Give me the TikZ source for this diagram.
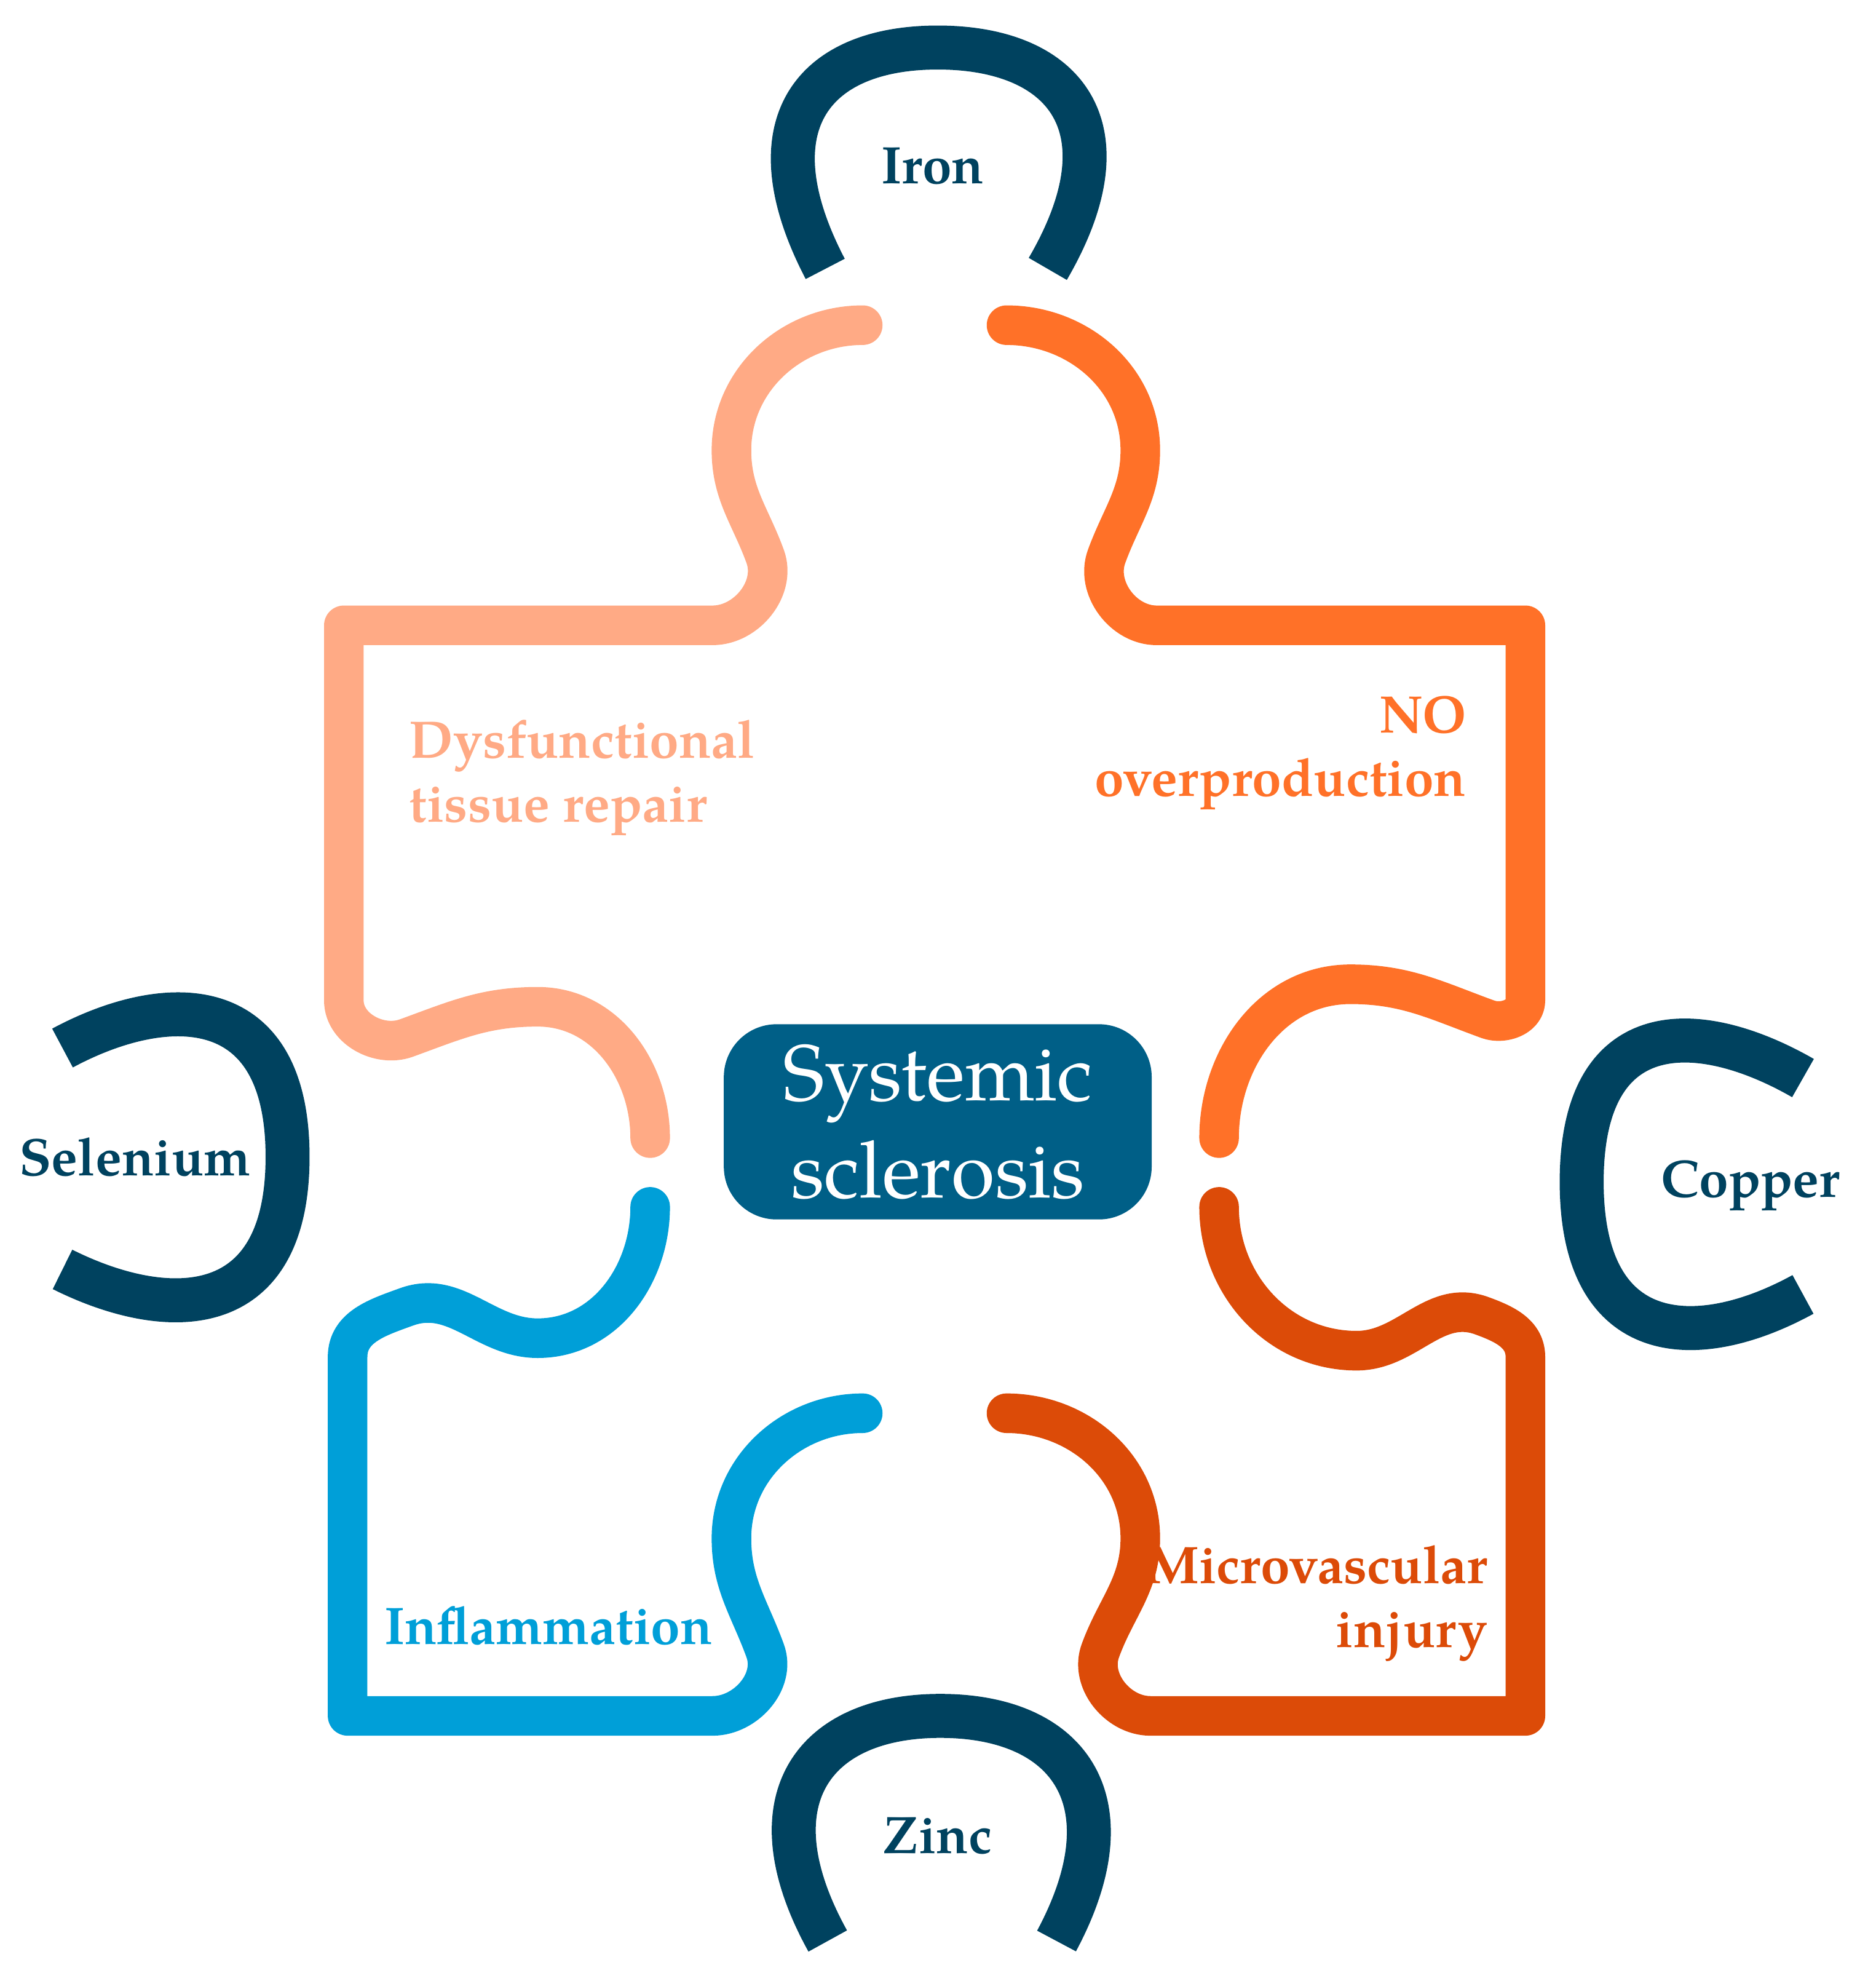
\documentclass[tikz,border=0pt]{standalone}
\usepackage{fontspec}
\setmainfont{TeX Gyre Pagella}[]
\begin{document}
\begin{tikzpicture}[x=0.01cm,y=-0.01cm,
 pc/.style={line width=9pt,line cap=round,line join=round},
 dk/.style={line width=10pt,draw=dkb},
 lab/.style={font=\bfseries\fontsize{12}{14.5}\selectfont,align=left}]
\definecolor{lo}{HTML}{FFAA85}\definecolor{mo}{HTML}{FF7128}
\definecolor{bl}{HTML}{009FD8}\definecolor{ro}{HTML}{DC4B08}
\definecolor{dkb}{HTML}{00425F}\definecolor{bx}{HTML}{005F87}
\useasboundingbox (0,0) rectangle (1500,1584);
% top-left
\draw[pc,lo] (690,260) to[out=180,in=90] (585,360) to[out=-90,in=110] (612,445) to[out=-70,in=0] (570,500) -- (275,500) -- (275,800) to[out=-90,in=200] (325,830) to[out=20,in=180] (430,805) to[out=0,in=90] (520,910);
% top-right
\draw[pc,mo] (805,260) to[out=0,in=90] (912,360) to[out=-90,in=70] (885,445) to[out=-110,in=180] (925,500) -- (1220,500) -- (1220,800) to[out=-90,in=-20] (1190,815) to[out=160,in=0] (1080,787) to[out=180,in=90] (975,910);
% bottom-left
\draw[pc,bl] (520,965) to[out=-90,in=0] (430,1070) to[out=180,in=20] (325,1045) to[out=200,in=90] (278,1085) -- (278,1372) -- (570,1372) to[out=0,in=-70] (612,1320) to[out=110,in=-90] (585,1230) to[out=90,in=180] (690,1130);
% bottom-right
\draw[pc,ro] (975,965) to[out=-90,in=180] (1085,1080) to[out=0,in=160] (1185,1052) to[out=-20,in=90] (1220,1085) -- (1220,1372) -- (920,1372) to[out=180,in=-110] (880,1320) to[out=70,in=-90] (912,1230) to[out=90,in=0] (805,1130);
% dark pieces
\draw[dk] (660,215) .. controls (600,100) and (650,38) .. (750,38) .. controls (850,38) and (905,100) .. (838,215);
\draw[dk] (662,1552) .. controls (600,1440) and (650,1372) .. (752,1372) .. controls (855,1372) and (905,1440) .. (845,1552);
\draw[dk] (50,838) .. controls (130,795) and (230,790) .. (230,925) .. controls (230,1060) and (130,1055) .. (50,1015);
\draw[dk] (1442,862) .. controls (1360,815) and (1265,810) .. (1265,945) .. controls (1265,1080) and (1360,1080) .. (1442,1035);
% center
\node[fill=bx,rounded corners=12pt,inner sep=0,minimum width=3.42cm,minimum height=1.56cm,text=white,align=center,font=\fontsize{18}{22}\selectfont] (box) at (750,897) {Systemic\\sclerosis};
\node[lab,text=dkb] (iron) at (746,133) {Iron};
\node[lab,text=dkb] (zinc) at (750,1468) {Zinc};
\node[lab,text=dkb] (sel) at (108,925) {Selenium};
\node[lab,text=dkb] (cop) at (1400,948) {Copper};
\node[lab,text=lo,anchor=west] (dys) at (315,622) {Dysfunctional\\tissue repair};
\node[lab,text=mo,anchor=east,align=right] (no) at (1185,602) {NO\\overproduction};
\node[lab,text=bl,anchor=west] (inf) at (295,1300) {Inflammation};
\node[lab,text=ro,anchor=east,align=right] (mic) at (1202,1282) {Microvascular\\injury};
\end{tikzpicture}
\end{document}
